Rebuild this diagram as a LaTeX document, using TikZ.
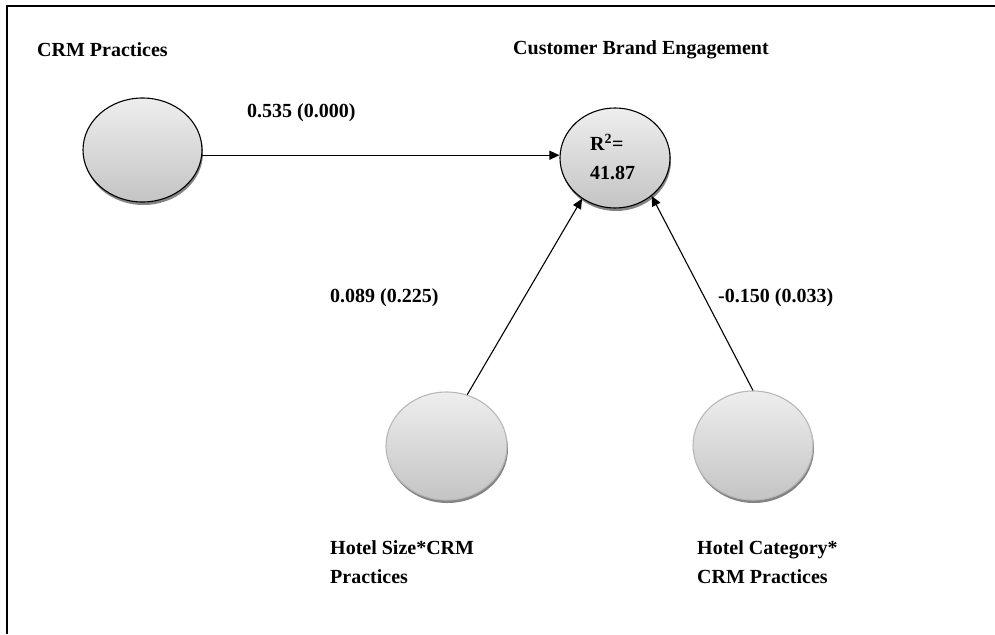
\documentclass[tikz,border=0pt]{standalone}
\usepackage{fontspec}
\setmainfont{Liberation Serif}
\usetikzlibrary{arrows.meta,shapes.geometric,shadows}
\definecolor{shadetop}{HTML}{EEEEEE}
\definecolor{shadebot}{HTML}{C4C4C4}
\definecolor{softrim}{HTML}{B8B8B8}
\begin{document}
\begin{tikzpicture}[x=1pt,y=-1pt,
  construct/.style={ellipse,minimum width=#1,top color=shadetop,bottom color=shadebot,
    line width=1.1pt,inner sep=0pt,
    drop shadow={shadow xshift=1pt,shadow yshift=-3pt,fill=black!60,opacity=0.8}},
  hardrim/.style={draw=black},
  softrim/.style={draw=softrim},
  lbl/.style={anchor=west,font=\bfseries\fontsize{20}{29}\selectfont,inner sep=0pt,align=left},
  arr/.style={line width=1.1pt,-{Triangle[length=10pt,width=9pt]}}]
\useasboundingbox (0,0) rectangle (995,634);
\fill[white] (0,0) rectangle (995,634);
% frame
\draw[line width=1.6pt] (7,634) -- (7,6) -- (995,6);
% constructs
\node[construct=119pt,minimum height=104pt,hardrim] (crm) at (142.5,150) {};
\node[construct=110pt,minimum height=100pt,hardrim] (r2) at (615,158) {};
\node[construct=121pt,minimum height=108pt,softrim] (hs) at (446.5,446) {};
\node[construct=120pt,minimum height=109pt,softrim] (hc) at (753,445.5) {};
% texts
\node[lbl] (tcrm) at (37,50) {CRM Practices};
\node[lbl] (tcbe) at (513,50) {Customer Brand Engagement};
\node[lbl] (tr2) at (590,157) {R\textsuperscript{2}=\\41.87};
\node[lbl] (p1) at (247,113) {0.535 (0.000)};
\node[lbl] (p2) at (330,298) {0.089 (0.225)};
\node[lbl] (p3) at (718,298) {-0.150 (0.033)};
\node[lbl] (ths) at (330,562) {Hotel Size*CRM\\Practices};
\node[lbl] (thc) at (697,562) {Hotel Category*\\CRM Practices};
% paths
\draw[arr] (crm.-5) -- (r2.west |- crm.-5);
\draw[arr] (hs.68) -- (r2.231);
\draw[arr] (hc.north) -- (r2.-46.5);
\end{tikzpicture}
\end{document}
